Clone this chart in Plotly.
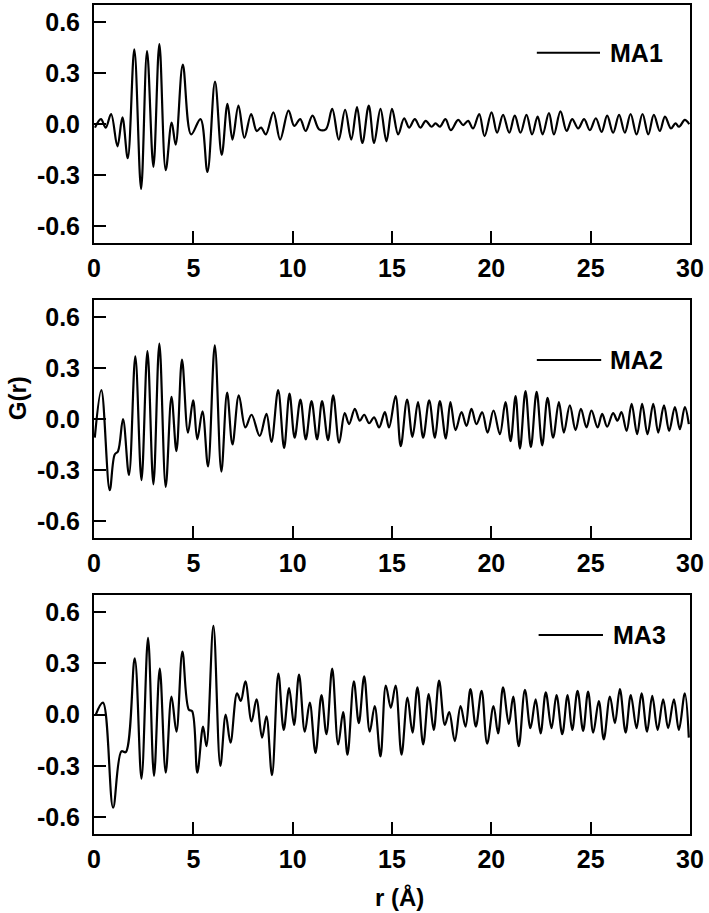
import plotly.graph_objects as go

# G(r) extrema (r in Å)
r_ma1 = [0.05, 0.35, 0.59, 0.86, 1.18, 1.43, 1.70, 2.03, 2.37, 2.67, 2.99, 3.29, 3.61, 3.91, 4.11,
         4.47, 4.89, 5.36, 5.71, 6.09, 6.43, 6.72, 6.97, 7.27, 7.57, 7.91, 8.19, 8.41, 8.65, 9.03,
         9.37, 9.79, 10.08, 10.38, 10.65, 11.00, 11.33, 11.67, 11.99, 12.32, 12.64, 12.95, 13.24,
         13.51, 13.83, 14.10, 14.42, 14.72, 15.00, 15.31, 15.61, 15.86, 16.15, 16.43, 16.70, 16.99,
         17.19, 17.41, 17.69, 17.96, 18.33, 18.58, 18.83, 19.08, 19.39, 19.66, 20.01, 20.29, 20.59,
         20.90, 21.18, 21.47, 21.77, 22.05, 22.33, 22.58, 22.90, 23.15, 23.48, 23.79, 24.07, 24.37,
         24.67, 24.96, 25.26, 25.55, 25.83, 26.13, 26.43, 26.72, 27.01, 27.31, 27.61, 27.90, 28.18,
         28.48, 28.74, 29.04, 29.27, 29.45, 29.74, 29.96]
g_ma1 = [-0.02, 0.03, -0.02, 0.06, -0.13, 0.04, -0.20, 0.44, -0.38, 0.43, -0.25, 0.47, -0.27, 0.01,
         -0.12, 0.35, -0.06, 0.03, -0.28, 0.25, -0.18, 0.12, -0.09, 0.11, -0.08, 0.06, -0.04, -0.02,
         -0.06, 0.07, -0.09, 0.08, -0.01, 0.03, -0.04, 0.05, -0.03, -0.03, 0.09, -0.09, 0.085, -0.09,
         0.10, -0.11, 0.11, -0.11, 0.09, -0.10, 0.09, -0.06, 0.035, -0.02, 0.03, -0.02, 0.02, -0.015,
         0.005, -0.015, 0.03, -0.035, 0.025, -0.005, 0.02, -0.025, 0.06, -0.07, 0.07, -0.05, 0.055,
         -0.05, 0.05, -0.05, 0.055, -0.06, 0.045, -0.06, 0.065, -0.06, 0.075, -0.04, 0.03, -0.025,
         0.03, -0.035, 0.035, -0.045, 0.05, -0.05, 0.055, -0.05, 0.06, -0.06, 0.06, -0.06, 0.055,
         -0.04, 0.045, -0.025, 0.005, -0.015, 0.025, 0.0]

r_ma2 = [0.04, 0.37, 0.79, 1.04, 1.21, 1.46, 1.76, 2.08, 2.39, 2.69, 2.99, 3.29, 3.61, 3.90, 4.15,
         4.43, 4.73, 4.99, 5.20, 5.46, 5.74, 6.08, 6.41, 6.70, 6.97, 7.29, 7.62, 7.93, 8.34, 8.68,
         8.93, 9.27, 9.57, 9.84, 10.10, 10.39, 10.66, 10.95, 11.23, 11.48, 11.78, 12.04, 12.34,
         12.62, 12.84, 13.13, 13.38, 13.60, 13.85, 14.10, 14.35, 14.64, 14.85, 15.18, 15.44, 15.76,
         16.03, 16.31, 16.57, 16.87, 17.16, 17.41, 17.71, 17.94, 18.20, 18.50, 18.75, 19.00, 19.25,
         19.54, 19.81, 20.11, 20.43, 20.71, 20.97, 21.22, 21.44, 21.72, 21.99, 22.28, 22.56, 22.83,
         23.11, 23.40, 23.65, 23.95, 24.24, 24.51, 24.79, 25.04, 25.35, 25.58, 25.83, 26.13, 26.35,
         26.55, 26.81, 27.06, 27.34, 27.59, 27.86, 28.15, 28.40, 28.69, 28.95, 29.24, 29.49, 29.74,
         29.94]
g_ma2 = [-0.11, 0.17, -0.42, -0.21, -0.19, 0.0, -0.33, 0.37, -0.36, 0.40, -0.385, 0.445, -0.40,
         0.13, -0.19, 0.35, -0.08, 0.11, -0.12, 0.045, -0.28, 0.435, -0.31, 0.155, -0.15, 0.14,
         -0.05, 0.025, -0.10, 0.03, -0.135, 0.17, -0.17, 0.15, -0.11, 0.115, -0.12, 0.105, -0.12,
         0.105, -0.125, 0.14, -0.14, 0.035, -0.03, 0.06, -0.01, 0.025, -0.025, 0.01, -0.05, 0.04,
         -0.05, 0.135, -0.16, 0.115, -0.105, 0.10, -0.11, 0.11, -0.11, 0.105, -0.115, 0.10, -0.065,
         0.04, -0.04, 0.06, -0.03, 0.04, -0.08, 0.05, -0.09, 0.10, -0.13, 0.135, -0.175, 0.165,
         -0.165, 0.16, -0.155, 0.125, -0.11, 0.10, -0.08, 0.08, -0.065, 0.06, -0.05, 0.05, -0.05,
         0.03, -0.045, 0.035, -0.01, 0.04, -0.07, 0.09, -0.09, 0.09, -0.09, 0.09, -0.08, 0.08, -0.07,
         0.07, -0.06, 0.07, -0.03]

r_ma3 = [0.09, 0.45, 0.96, 1.38, 1.60, 2.05, 2.39, 2.72, 3.02, 3.31, 3.61, 3.90, 4.15, 4.45, 4.77,
         4.94, 5.20, 5.49, 5.66, 6.01, 6.36, 6.63, 6.87, 7.20, 7.39, 7.62, 7.93, 8.18, 8.46, 8.68,
         8.96, 9.28, 9.55, 9.82, 10.07, 10.32, 10.61, 10.86, 11.15, 11.45, 11.70, 11.99, 12.29,
         12.54, 12.76, 13.08, 13.33, 13.60, 13.88, 14.13, 14.42, 14.69, 14.94, 15.18, 15.48, 15.78,
         16.03, 16.28, 16.57, 16.85, 17.10, 17.37, 17.66, 17.88, 18.16, 18.45, 18.70, 18.95, 19.22,
         19.51, 19.79, 20.11, 20.34, 20.59, 20.88, 21.10, 21.38, 21.69, 21.97, 22.23, 22.48, 22.74,
         23.03, 23.28, 23.57, 23.84, 24.07, 24.34, 24.62, 24.87, 25.13, 25.41, 25.66, 25.97, 26.22,
         26.47, 26.76, 27.02, 27.31, 27.56, 27.84, 28.10, 28.37, 28.65, 28.90, 29.19, 29.44, 29.74,
         29.94]
g_ma3 = [0.0, 0.07, -0.545, -0.215, -0.22, 0.33, -0.375, 0.45, -0.36, 0.27, -0.34, 0.105, -0.10,
         0.37, 0.03, 0.02, -0.34, -0.07, -0.185, 0.52, -0.30, 0.0, -0.165, 0.125, 0.08, 0.195, -0.04,
         0.09, -0.135, -0.01, -0.355, 0.24, -0.09, 0.155, -0.06, 0.235, -0.10, 0.07, -0.225, 0.115,
         -0.115, 0.27, -0.175, 0.015, -0.235, 0.195, -0.05, 0.225, -0.10, 0.05, -0.245, 0.17, 0.04,
         0.17, -0.235, 0.10, -0.105, 0.16, -0.175, 0.12, -0.09, 0.20, -0.06, 0.015, -0.155, 0.05,
         -0.07, 0.15, -0.07, 0.14, -0.17, 0.05, -0.11, 0.16, -0.055, 0.105, -0.185, 0.145, -0.08,
         0.09, -0.11, 0.13, -0.08, 0.115, -0.115, 0.115, -0.09, 0.14, -0.095, 0.135, -0.105, 0.08,
         -0.145, 0.105, -0.05, 0.15, -0.105, 0.115, -0.08, 0.125, -0.10, 0.11, -0.09, 0.09, -0.08,
         0.09, -0.09, 0.125, -0.135]

names = ["MA1", "MA2", "MA3"]
x_ticks = [0, 5, 10, 15, 20, 25, 30]
y_ticks = [-0.6, -0.3, 0.0, 0.3, 0.6]
y_tick_text = ["-0.6", "-0.3", "0.0", "0.3", "0.6"]

FONT = "Liberation Sans, Arial, sans-serif"
tick_font = dict(family=FONT, size=25, color="black", weight="bold")

fig = go.Figure()
series = [(r_ma1, g_ma1), (r_ma2, g_ma2), (r_ma3, g_ma3)]
for i, (r, g) in enumerate(series):
    sfx = "" if i == 0 else str(i + 1)
    fig.add_trace(go.Scatter(
        x=r, y=g, mode="lines", name=names[i], showlegend=False,
        line=dict(color="black", width=2.2, shape="spline", smoothing=1.0),
        xaxis="x" + sfx, yaxis="y" + sfx,
    ))

axis_common = dict(showline=True, linecolor="black", linewidth=2, mirror=True,
                   ticks="inside", ticklen=12, tickwidth=2, tickcolor="black",
                   showgrid=False, zeroline=False, tickfont=tick_font)

# panel domains (top, middle, bottom)
y_domains = [[0.7124, 1.0], [0.3574, 0.6438], [0.0, 0.288]]
# legend sample line / label position inside each panel
leg_x0 = [0.743, 0.743, 0.746]
leg_x1 = [0.849, 0.851, 0.854]
leg_tx = [0.862, 0.863, 0.867]
leg_y = [0.80, 0.749, 0.833]

layout = dict(width=709, height=913, plot_bgcolor="white", paper_bgcolor="white",
              margin=dict(l=94, r=19, t=3, b=79), showlegend=False)
shapes, annotations = [], []
for i in range(3):
    sfx = "" if i == 0 else str(i + 1)
    layout["xaxis" + sfx] = dict(axis_common, domain=[0, 1], anchor="y" + sfx, range=[0, 30],
                                 tickvals=x_ticks, ticklabelstandoff=2)
    layout["yaxis" + sfx] = dict(axis_common, domain=y_domains[i], anchor="x" + sfx,
                                 range=[-0.7, 0.7], tickvals=y_ticks, ticktext=y_tick_text,
                                 ticklabelstandoff=7)
    shapes.append(dict(type="line", xref="x" + sfx + " domain", yref="y" + sfx + " domain",
                       x0=leg_x0[i], x1=leg_x1[i], y0=leg_y[i], y1=leg_y[i],
                       line=dict(color="black", width=2)))
    annotations.append(dict(text=names[i], xref="x" + sfx + " domain", yref="y" + sfx + " domain",
                            x=leg_tx[i], y=leg_y[i], xanchor="left", yanchor="middle",
                            showarrow=False, font=dict(family=FONT, size=25, color="black",
                                                       weight="bold")))

annotations.append(dict(text="G(r)", xref="paper", yref="paper", x=-0.127, y=0.526,
                        textangle=-90, showarrow=False, xanchor="center", yanchor="middle",
                        font=dict(family=FONT, size=24, color="black", weight="bold")))
annotations.append(dict(text="r (Å)", xref="paper", yref="paper", x=0.512, y=-0.0767,
                        showarrow=False, xanchor="center", yanchor="middle",
                        font=dict(family=FONT, size=24, color="black", weight="bold")))

fig.update_layout(**layout, shapes=shapes, annotations=annotations)
# drop the browser's default 8px body margin so the figure sits at the page corner
fig.write_html("out.html", config={"displayModeBar": False},
               post_script="document.body.style.margin='0';")
